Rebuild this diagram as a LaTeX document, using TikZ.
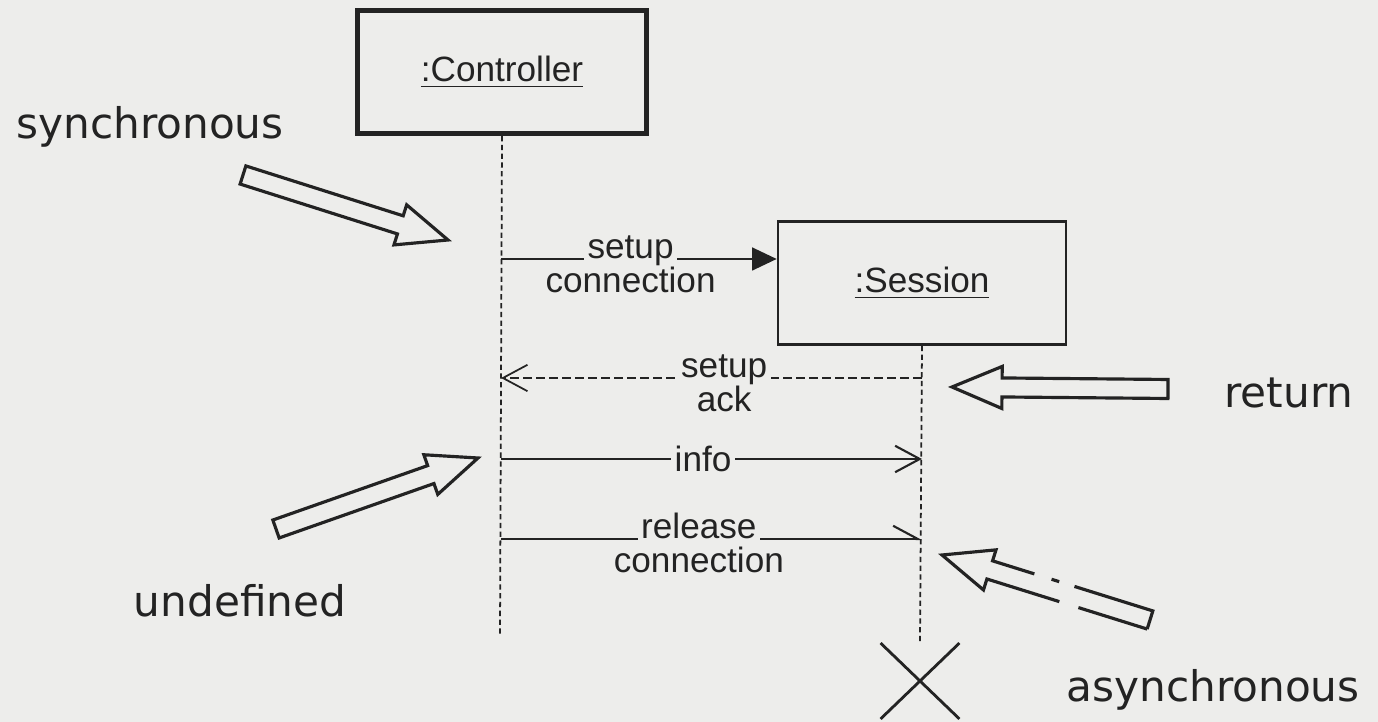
\documentclass[tikz,border=0pt]{standalone}
\usepackage{fontspec}
\setmainfont{Liberation Sans}
\newfontfamily\notefont{DejaVu Sans}
\usepackage{xcolor}
\usepackage{tikz}
\usetikzlibrary{arrows.meta,calc,shapes.misc}

\definecolor{paper}{RGB}{237,237,235}
\definecolor{ink}{RGB}{35,35,35}

\newcommand\hollowarrow[3][]{%
  \coordinate (nk) at ($(#3)!0.5cm!(#2)$);
  \draw[hollow,#1] ($(#2)!0.095cm!90:(#3)$) -- ($(nk)!0.095cm!90:(#3)$)
    -- ($(nk)!0.21cm!90:(#3)$) -- (#3) -- ($(nk)!0.21cm!-90:(#3)$)
    -- ($(nk)!0.095cm!-90:(#3)$) -- ($(#2)!0.095cm!-90:(#3)$) -- cycle;}

\begin{document}
\begin{tikzpicture}[
  x=0.01cm, y=-0.01cm,
  obj/.style={draw=ink, minimum width=2.88cm, minimum height=1.23cm,
              inner sep=0pt, text=ink},
  life/.style={draw=ink, line width=0.5pt, dash pattern=on 1.5pt off 1pt},
  call/.style={draw=ink, line width=0.6pt, -{Triangle[length=7pt,width=6.5pt]}},
  reply/.style={draw=ink, line width=0.5pt, dash pattern=on 2.5pt off 1.2pt,
                -{Straight Barb[length=7pt,width=7.5pt]}},
  send/.style={draw=ink, line width=0.6pt, -{Straight Barb[length=7pt,width=7.5pt]}},
  signal/.style={draw=ink, line width=0.6pt,
                 -{Straight Barb[left,length=7pt,width=7.5pt]}},
  word/.style={fill=paper, text=ink, inner sep=1pt},
  under/.style={text=ink, inner sep=2pt},
  hollow/.style={draw=ink, line width=0.9pt, line join=miter},
  broken/.style={dash pattern=on 0.72cm off 0.2cm on 2.51cm off 0.18cm
                 on 0.08cm off 0.16cm on 1.2cm},
  note/.style={text=ink, font=\notefont\fontsize{12}{14}\selectfont}]
\fill[paper] (0,0) rectangle (1378,722);
\useasboundingbox (0,0) rectangle (1378,722);

\node[obj, line width=1.4pt] (ctrl) at (502,72) {\underline{:Controller}};
\node[obj, line width=0.7pt] (sess) at (922,283) {\underline{:Session}};
\node[draw=ink, cross out, line width=0.8pt, minimum width=0.76cm,
      minimum height=0.73cm, inner sep=0pt] (destroy) at (920,681) {};

\coordinate (ctrlEnd) at (500,635);
\draw[life] (ctrl.south) -- (ctrlEnd);
\draw[life] (sess.south) -- (destroy.north);

\coordinate (c1) at (501,259);
\coordinate (c2) at (501,378);
\coordinate (s2) at (922,378);
\coordinate (c3) at (501,459);
\coordinate (s3) at (922,459);
\coordinate (c4) at (501,539);
\coordinate (s4) at (922,539);

\draw[call] (c1) -- node[pos=.47, word, anchor=base] {setup}
  node[pos=.47, under, anchor=north] {connection} (c1 -| sess.west);
\draw[reply] (s2) -- node[pos=.47, word, anchor=base] {setup}
  node[pos=.47, under, anchor=north] {ack} (c2);
\draw[send] (c3) -- node[pos=.48, word] {info} (s3);
\draw[signal] (c4) -- node[pos=.47, word, anchor=base] {release}
  node[pos=.47, under, anchor=north] {connection} (s4);

\node[note] (syncLbl) at (150,127) {synchronous};
\node[note] (retLbl) at (1289,393) {return};
\node[note] (undefLbl) at (240,601) {undefined};
\node[note] (asyncLbl) at (1213,690) {asynchronous};

\coordinate (syncT) at (243,175);
\coordinate (syncH) at (448,240);
\coordinate (retT) at (1168,389);
\coordinate (retH) at (952,387);
\coordinate (undefT) at (276,529);
\coordinate (undefH) at (478,458);
\coordinate (asyncT) at (1150,620);
\coordinate (asyncH) at (942,555);
\hollowarrow{syncT}{syncH}
\hollowarrow{retT}{retH}
\hollowarrow{undefT}{undefH}
\hollowarrow[broken]{asyncT}{asyncH}
\end{tikzpicture}
\end{document}
